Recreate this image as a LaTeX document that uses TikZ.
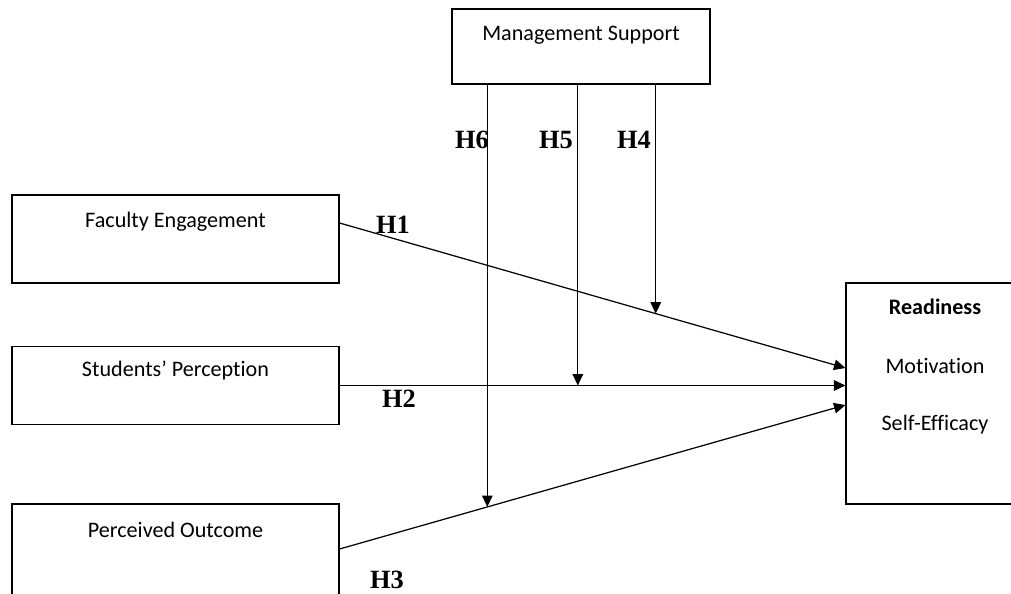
\documentclass[tikz,border=0pt]{standalone}
\usepackage{fontspec}
\setmainfont{Carlito}[Ligatures=NoCommon]
\newfontfamily\hypfont{Liberation Serif}
\usetikzlibrary{positioning,calc,arrows.meta}
\tikzset{
  box/.style={draw, line width=0.7pt, inner sep=0pt},
  boxtext/.style={font=\fontsize{12.6}{14}\selectfont, inner sep=0pt},
  hyp/.style={font=\hypfont\bfseries\fontsize{15}{17}\selectfont, inner sep=0pt},
  arr/.style={-{Triangle[length=6.5pt,width=6pt]}, line width=0.7pt},
}
\begin{document}
\begin{tikzpicture}[x=0.02cm,y=-0.02cm]
\useasboundingbox (0,0) rectangle (1011,594);
\clip (0,0) rectangle (1011,594);
% boxes
\node[box, minimum width=5.16cm, minimum height=1.5cm] (ms) at (581,46.5) {};
\node[box, minimum width=6.54cm, minimum height=1.76cm] (fe) at (175.5,239) {};
\node[box, minimum width=6.54cm, minimum height=1.56cm] (sp) at (175.5,385.5) {};
\node[box, minimum width=6.54cm, minimum height=1.92cm] (po) at (175.5,552) {};
\node[box, minimum width=3.56cm, minimum height=4.42cm] (rd) at (935,393.5) {};
% box texts
\node[boxtext] (ms-t) at ($(ms.north)+(0,27)$) {Management Support};
\node[boxtext] (fe-t) at ($(fe.north)+(0,27)$) {Faculty Engagement};
\node[boxtext] (sp-t) at ($(sp.north)+(0,25)$) {Students’ Perception};
\node[boxtext] (po-t) at ($(po.north)+(0,26)$) {Perceived Outcome};
\node[boxtext, font=\fontsize{12.6}{14}\selectfont\bfseries] (rd-t1) at ($(rd.north)+(0,24)$) {Readiness};
\node[boxtext] (rd-t2) at ($(rd.north)+(0,84)$) {Motivation};
\node[boxtext] (rd-t3) at ($(rd.north)+(0,142)$) {Self-Efficacy};
% direct paths
\coordinate (fe-out) at ($(fe.east)+(0,-16)$);
\coordinate (rd-in1) at ($(rd.west)+(0,-25.5)$);
\coordinate (po-out) at ($(po.east)+(0,-3)$);
\coordinate (rd-in3) at ($(rd.west)+(0,11.5)$);
\draw[arr] (fe-out) -- (rd-in1);
\draw[arr] (sp.east) -- (sp.east -| rd.west);
\draw[arr] (po-out) -- (rd-in3);
% moderation
\coordinate (m4) at ($(fe-out)!0.625!(rd-in1)$);
\coordinate (m5) at ($(sp.east)!0.471!(sp.east -| rd.west)$);
\coordinate (m6) at ($(po-out)!0.292!(rd-in3)$);
\draw[arr] (ms.south -| m4) -- (m4);
\draw[arr] (ms.south -| m5) -- (m5);
\draw[arr] (ms.south -| m6) -- (m6);
% labels
\node[hyp] (h1) at (393,225) {H1};
\node[hyp] (h2) at (399,399) {H2};
\node[hyp] (h3) at (387,580) {H3};
\node[hyp] (h4) at (634,140) {H4};
\node[hyp] (h5) at (556,140) {H5};
\node[hyp] (h6) at (472,140) {H6};
\end{tikzpicture}
\end{document}
